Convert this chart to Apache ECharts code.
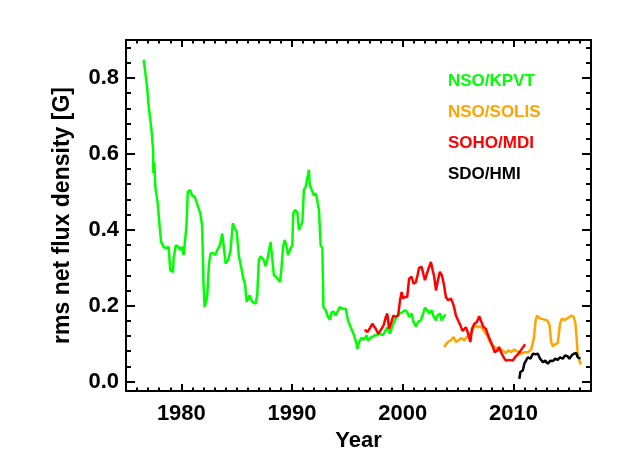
<!DOCTYPE html>
<html>
<head>
<meta charset="utf-8">
<script src="https://cdn.jsdelivr.net/npm/echarts@6/dist/echarts.min.js"></script>
<style>
  html, body { margin: 0; padding: 0; background: #fff; }
  #chart { width: 629px; height: 472px; }
</style>
</head>
<body>
<div id="chart"></div>
<script>
// NSO/KPVT
var kpvtYears = [1976.6, 1976.9, 1977.05, 1977.3, 1977.45, 1977.47, 1977.56, 1977.65, 1977.86, 1978.04,
  1978.17, 1978.4, 1978.6, 1978.85, 1979.0, 1979.25, 1979.3, 1979.5, 1979.76, 1979.9,
  1980.07, 1980.2, 1980.37, 1980.46, 1980.58, 1980.8, 1980.97, 1981.2, 1981.4, 1981.57,
  1981.72, 1981.88, 1982.0, 1982.1, 1982.33, 1982.5, 1982.63, 1982.87, 1983.08, 1983.23,
  1983.47, 1983.7, 1983.83, 1984.0, 1984.23, 1984.44, 1984.65, 1984.83, 1985.0, 1985.2,
  1985.4, 1985.6, 1985.74, 1985.9, 1986.0, 1986.16, 1986.4, 1986.55, 1986.7, 1986.85,
  1987.0, 1987.15, 1987.3, 1987.45, 1987.6, 1987.76, 1987.9, 1988.06, 1988.2, 1988.36,
  1988.57, 1988.75, 1988.9, 1989.03, 1989.17, 1989.33, 1989.48, 1989.63, 1989.78, 1989.87,
  1990.02, 1990.1, 1990.26, 1990.47, 1990.62, 1990.77, 1990.93, 1991.07, 1991.23, 1991.38,
  1991.52, 1991.6, 1991.77, 1991.98, 1992.13, 1992.22, 1992.34, 1992.43, 1992.58, 1992.74,
  1992.83, 1993.04, 1993.25, 1993.43, 1993.58, 1993.79, 1993.94, 1994.1, 1994.3, 1994.55,
  1994.85, 1995.05, 1995.3, 1995.54, 1995.75, 1995.9, 1996.05, 1996.27, 1996.5, 1996.72,
  1996.86, 1997.1, 1997.47, 1997.7, 1997.95, 1998.17, 1998.37, 1998.6, 1998.85, 1999.07,
  1999.28, 1999.5, 1999.75, 1999.98, 2000.2, 2000.4, 2000.57, 2000.8, 2000.97, 2001.18,
  2001.38, 2001.63, 2001.79, 2002.0, 2002.18, 2002.4, 2002.6, 2002.8, 2003.0, 2003.14,
  2003.38, 2003.5, 2003.7, 2003.84];
var kpvtValues = [0.848, 0.778, 0.725, 0.663, 0.61, 0.549, 0.578, 0.513, 0.47, 0.408,
  0.368, 0.355, 0.351, 0.355, 0.293, 0.289, 0.324, 0.359, 0.355, 0.346,
  0.355, 0.333, 0.328, 0.408, 0.50, 0.505, 0.49, 0.487, 0.47, 0.465,
  0.443, 0.408, 0.258, 0.196, 0.223, 0.311, 0.337, 0.339, 0.333, 0.346,
  0.359, 0.39, 0.386, 0.311, 0.32, 0.345, 0.417, 0.403, 0.395, 0.33,
  0.302, 0.271, 0.258, 0.21, 0.205, 0.227, 0.21, 0.214, 0.205, 0.227,
  0.32, 0.33, 0.333, 0.32, 0.304, 0.32, 0.324, 0.368, 0.364, 0.28,
  0.276, 0.28, 0.262, 0.293, 0.351, 0.373, 0.359, 0.333, 0.337, 0.351,
  0.359, 0.443, 0.452, 0.447, 0.399, 0.403, 0.421, 0.505, 0.513, 0.509,
  0.558, 0.518, 0.513, 0.49, 0.496, 0.487, 0.465, 0.452, 0.359, 0.351,
  0.196, 0.188, 0.17, 0.163, 0.183, 0.183, 0.174, 0.179, 0.196, 0.192,
  0.192, 0.161, 0.143, 0.126, 0.108, 0.086, 0.104, 0.115, 0.11, 0.122,
  0.108, 0.115, 0.122, 0.122, 0.126, 0.122, 0.13, 0.143, 0.126, 0.148,
  0.161, 0.174, 0.18, 0.183, 0.188, 0.183, 0.17, 0.179, 0.157, 0.145,
  0.157, 0.161, 0.174, 0.195, 0.189, 0.179, 0.188, 0.17, 0.161, 0.174,
  0.179, 0.161, 0.17, 0.177];

// NSO/SOLIS
var solisYears = [2003.75, 2004.0, 2004.3, 2004.6, 2004.8, 2005.1, 2005.3, 2005.55, 2005.8, 2006.0,
  2006.3, 2006.5, 2006.75, 2007.0, 2007.2, 2007.4, 2007.65, 2007.9, 2008.1, 2008.4,
  2008.7, 2009.0, 2009.33, 2009.53, 2009.77, 2010.07, 2010.36, 2010.67, 2010.98, 2011.3,
  2011.6, 2011.84, 2012.0, 2012.13, 2012.34, 2012.55, 2012.8, 2013.04, 2013.25, 2013.4,
  2013.55, 2013.76, 2014.0, 2014.2, 2014.36, 2014.6, 2014.84, 2015.05, 2015.26, 2015.45,
  2015.6, 2015.72, 2015.8, 2015.95, 2016.1];
var solisValues = [0.091, 0.102, 0.108, 0.117, 0.104, 0.110, 0.115, 0.108, 0.119, 0.117,
  0.135, 0.15, 0.143, 0.146, 0.139, 0.13, 0.12, 0.102, 0.093, 0.089,
  0.086, 0.082, 0.075, 0.082, 0.078, 0.084, 0.079, 0.073, 0.077, 0.077,
  0.084, 0.115, 0.161, 0.174, 0.167, 0.165, 0.163, 0.161, 0.15, 0.104,
  0.093, 0.098, 0.101, 0.152, 0.166, 0.162, 0.166, 0.17, 0.174, 0.17,
  0.152, 0.108, 0.073, 0.055, 0.045];

// SOHO/MDI
var mdiYears = [1996.57, 1996.8, 1997.0, 1997.25, 1997.4, 1997.56, 1997.77, 1998.0, 1998.26, 1998.47,
  1998.6, 1998.76, 1998.97, 1999.16, 1999.37, 1999.58, 1999.75, 1999.9, 2000.0, 2000.2,
  2000.4, 2000.57, 2000.8, 2000.97, 2001.18, 2001.33, 2001.48, 2001.7, 2001.88, 2002.0,
  2002.18, 2002.33, 2002.54, 2002.7, 2002.84, 2003.0, 2003.14, 2003.35, 2003.53, 2003.7,
  2003.9, 2004.1, 2004.35, 2004.6, 2004.8, 2005.0, 2005.2, 2005.4, 2005.55, 2005.7,
  2005.86, 2006.1, 2006.25, 2006.46, 2006.7, 2006.9, 2007.1, 2007.3, 2007.5, 2007.7,
  2007.9, 2008.1, 2008.3, 2008.55, 2008.7, 2008.87, 2009.1, 2009.33, 2009.63, 2009.93,
  2010.14, 2010.44, 2010.75, 2011.05];
var mdiValues = [0.137, 0.13, 0.139, 0.152, 0.157, 0.139, 0.126, 0.135, 0.148, 0.17,
  0.179, 0.139, 0.157, 0.174, 0.17, 0.174, 0.214, 0.236, 0.219, 0.223,
  0.223, 0.271, 0.276, 0.258, 0.262, 0.28, 0.30, 0.302, 0.298, 0.267,
  0.284, 0.298, 0.315, 0.293, 0.276, 0.24, 0.262, 0.289, 0.28, 0.258,
  0.222, 0.214, 0.219, 0.20, 0.174, 0.161, 0.148, 0.133, 0.128, 0.143,
  0.13, 0.104, 0.139, 0.152, 0.157, 0.172, 0.157, 0.143, 0.139, 0.122,
  0.108, 0.095, 0.077, 0.082, 0.091, 0.077, 0.064, 0.055, 0.057, 0.055,
  0.064, 0.073, 0.086, 0.098];

// SDO/HMI
var hmiYears = [2010.53, 2010.62, 2010.84, 2010.98, 2011.13, 2011.3, 2011.53, 2011.75, 2012.0, 2012.2,
  2012.4, 2012.66, 2012.86, 2013.1, 2013.33, 2013.55, 2013.76, 2014.0, 2014.2, 2014.45,
  2014.66, 2014.9, 2015.05, 2015.26, 2015.45, 2015.66, 2015.8, 2016.05];
var hmiValues = [0.007, 0.025, 0.029, 0.047, 0.051, 0.064, 0.06, 0.073, 0.072, 0.073,
  0.06, 0.051, 0.055, 0.047, 0.055, 0.054, 0.06, 0.057, 0.064, 0.06,
  0.069, 0.066, 0.06, 0.069, 0.073, 0.075, 0.064, 0.06];

var seriesNames = ['NSO/KPVT', 'NSO/SOLIS', 'SOHO/MDI', 'SDO/HMI'];
var seriesColors = ['#00ff00', '#ffa500', '#ff0000', '#000000'];

var xMajorTicks = [1980, 1990, 2000, 2010];
var yMajorTicks = [0, 0.2, 0.4, 0.6, 0.8];

function range(a, b, step) {
  var out = [];
  for (var i = 0; a + i * step <= b + 1e-9; i++) out.push(+(a + i * step).toFixed(4));
  return out;
}
var xMinorTicks = range(1975, 2017, 1);
var yMinorTicks = range(0, 0.88, 0.04);

function pairs(xs, ys) {
  return xs.map(function (x, i) { return [x, ys[i]]; });
}

var font = 'Liberation Sans, Arial, Helvetica, sans-serif';
var black = '#000';

function xAx(pos, major, withLabel) {
  return {
    type: 'value', position: pos, min: 1975, max: 2017,
    name: withLabel ? 'Year' : '', nameLocation: 'middle', nameGap: 31,
    nameTextStyle: { fontFamily: font, fontWeight: 'bold', fontSize: 22, color: black },
    axisLine: { show: major, onZero: false, lineStyle: { color: black, width: 2 } },
    axisTick: { show: true, inside: true, length: major ? 7 : 3.5,
      customValues: major ? xMajorTicks : xMinorTicks,
      lineStyle: { color: black, width: 2 } },
    axisLabel: { show: withLabel, customValues: xMajorTicks, margin: 12,
      formatter: function (v) { return String(v); },
      fontFamily: font, fontWeight: 'bold', fontSize: 22, color: black },
    splitLine: { show: false }
  };
}

function yAx(pos, major, withLabel) {
  return {
    type: 'value', position: pos, min: -0.025, max: 0.9,
    name: withLabel ? 'rms net flux density [G]' : '', nameLocation: 'middle', nameGap: 52,
    nameTextStyle: { fontFamily: font, fontWeight: 'bold', fontSize: 23, color: black },
    axisLine: { show: major, onZero: false, lineStyle: { color: black, width: 2 } },
    axisTick: { show: true, inside: true, length: major ? 9 : 5,
      customValues: major ? yMajorTicks : yMinorTicks,
      lineStyle: { color: black, width: 2 } },
    axisLabel: { show: withLabel, customValues: yMajorTicks, margin: 7,
      formatter: function (v) { return v.toFixed(1); },
      fontFamily: font, fontWeight: 'bold', fontSize: 22, color: black },
    splitLine: { show: false }
  };
}

var chart = echarts.init(document.getElementById('chart'), null, { renderer: 'canvas' });

var allData = [
  pairs(kpvtYears, kpvtValues),
  pairs(solisYears, solisValues),
  pairs(mdiYears, mdiValues),
  pairs(hmiYears, hmiValues)
];

var option = {
  animation: false,
  backgroundColor: '#fff',
  grid: { left: 126, right: 38, top: 40, bottom: 81, containLabel: false },
  legend: {
    orient: 'vertical', left: 438, top: 66,
    icon: 'none', itemWidth: 0, itemHeight: 20, itemGap: 11,
    textStyle: { fontFamily: font, fontWeight: 'bold', fontSize: 17, lineHeight: 20 },
    data: seriesNames.map(function (n, i) {
      return { name: n, textStyle: { color: seriesColors[i] } };
    })
  },
  xAxis: [
    xAx('bottom', true, true),
    xAx('bottom', false, false),
    xAx('top', true, false),
    xAx('top', false, false)
  ],
  yAxis: [
    yAx('left', true, true),
    yAx('left', false, false),
    yAx('right', true, false),
    yAx('right', false, false)
  ],
  series: seriesNames.map(function (n, i) {
    return {
      name: n, type: 'line', xAxisIndex: 0, yAxisIndex: 0,
      data: allData[i], showSymbol: false, symbol: 'none',
      lineStyle: { color: seriesColors[i], width: 2.5 },
      itemStyle: { color: seriesColors[i] },
      z: i === 0 ? 2 : 3
    };
  })
};

chart.setOption(option);
</script>
</body>
</html>
